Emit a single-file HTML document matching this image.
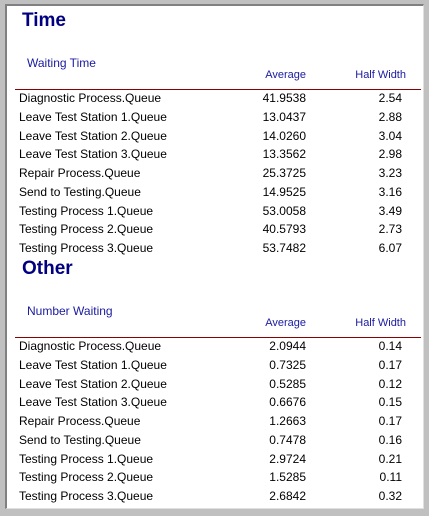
<!DOCTYPE html>
<html><head><meta charset="utf-8"><style>
body{margin:0;width:429px;height:516px;background:#c0c0c0;position:relative;overflow:hidden;font-family:"Liberation Sans",Arial,sans-serif}
#frame{position:absolute;left:5px;top:4px;width:416px;height:502px;background:#fff;border-left:2px solid #808080;border-top:2px solid #808080;border-right:1px solid #e0e0e0;border-bottom:1px solid #e0e0e0}
.t{position:absolute;white-space:nowrap}
.title{font-weight:bold;font-size:19px;color:#000080;left:22px}
.sub{font-size:12px;color:#1a1aa0;left:27px}
.hdr{font-size:11px;color:#1a1aa0}
.row{font-size:12px;color:#000}
.line{position:absolute;left:15px;width:406px;height:1px;background:#8b0000}
</style></head><body>
<div id="frame"></div>
<div id="root"></div>
<script>
const timeNames=["Diagnostic Process.Queue","Leave Test Station 1.Queue","Leave Test Station 2.Queue","Leave Test Station 3.Queue","Repair Process.Queue","Send to Testing.Queue","Testing Process 1.Queue","Testing Process 2.Queue","Testing Process 3.Queue"];
const timeAvg=["41.9538","13.0437","14.0260","13.3562","25.3725","14.9525","53.0058","40.5793","53.7482"];
const timeHW=["2.54","2.88","3.04","2.98","3.23","3.16","3.49","2.73","6.07"];
const numAvg=["2.0944","0.7325","0.5285","0.6676","1.2663","0.7478","2.9724","1.5285","2.6842"];
const numHW=["0.14","0.17","0.12","0.15","0.17","0.16","0.21","0.11","0.32"];
const root=document.getElementById('root');
function txt(cls,s,x,y,right,name){const d=document.createElement('div');d.className='t '+cls;d.textContent=s;


if(right){d.style.right=(429-x)+'px';}else if(x!=null){d.style.left=x+'px';}
d.style.top=y+'px';root.appendChild(d);return d;}
function section(title,sub,ty,avg,hw,key){
 txt('title',title,null,ty,false,key+'-title');
 txt('sub',sub,null,ty+46,false,key+'-subtitle');
 txt('hdr','Average',306,ty+59,true,key+'-average-header');
 txt('hdr','Half Width',406,ty+59,true,key+'-halfwidth-header');
 const l=document.createElement('div');l.className='line';l.style.top=(ty+79)+'px';
 
 
 root.appendChild(l);
 for(let i=0;i<timeNames.length;i++){const y=ty+81+i*18.75;
  txt('row',timeNames[i],19,y,false,key+'-row-name');
  txt('row',avg[i],306,y,true,key+'-row-average');
  txt('row',hw[i],402,y,true,key+'-row-halfwidth');}
}
section('Time','Waiting Time',10,timeAvg,timeHW,'waiting-time');
section('Other','Number Waiting',258,numAvg,numHW,'number-waiting');
</script>
</body></html>
